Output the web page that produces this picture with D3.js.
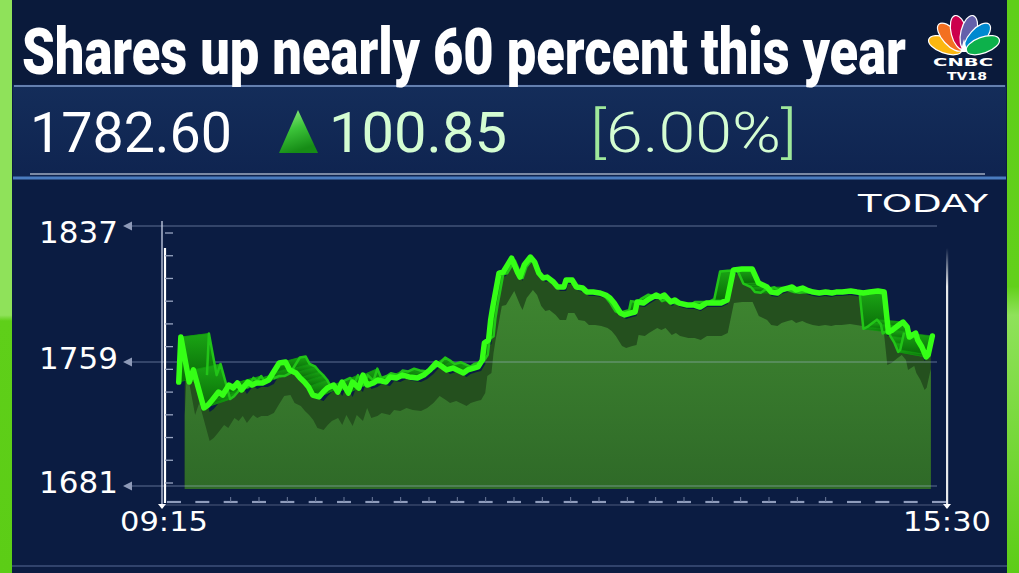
<!DOCTYPE html>
<html><head><meta charset="utf-8">
<script src="https://cdn.jsdelivr.net/npm/d3@7"></script>
<style>html,body{margin:0;padding:0;background:#0b1c42;overflow:hidden}</style>
</head><body><svg id="c" width="1019" height="573"></svg>
<script>
// ---------------- data ----------------
const title = "Shares up nearly 60 percent this year";
const lastPrice = "1782.60";
const change = "100.85";
const changePct = "6.00%";
const periodLabel = "TODAY";
const yTickValues = [1681, 1759, 1837];
const xTickLabels = ["09:15", "15:30"];
// minutes after 09:15
const minutes = [8,9,13,15,20,22,24,27,29,32,34,36,38,41,43,45,48,51,53,56,59,61,64,66,68,70,72,75,77,79,82,84,86,89,91,94,96,98,101,103,107,109,112,115,118,122,125,128,131,134,136,139,141,144,146,149,151,153,154,156,157,158,161,163,165,167,170,171,173,176,178,180,182,184,187,189,192,193,196,198,201,203,206,209,212,214,216,219,221,224,226,227,230,232,236,238,240,243,245,247,251,254,257,260,263,267,270,273,277,282,285,287,289,291,294,296,299,301,303,306,308,311,314,317,320,322,325,329,332,335,338,342,345,347,349,352,354,356,357,360,361,363,365,366,368];
const prices = [1746.4,1773.3,1746.4,1754.0,1730.1,1732.0,1735.1,1740.1,1738.2,1744.5,1742.6,1745.8,1741.4,1746.4,1744.5,1745.8,1745.8,1747.7,1752.1,1758.4,1759.0,1754.0,1752.1,1748.9,1746.4,1743.3,1738.2,1737.0,1740.1,1742.6,1744.5,1740.1,1746.4,1739.5,1746.4,1742.6,1750.8,1744.5,1745.8,1747.7,1746.4,1749.6,1748.9,1750.8,1749.6,1748.9,1750.8,1754.0,1758.4,1755.9,1754.0,1755.2,1754.0,1752.1,1754.0,1755.2,1755.9,1760.1,1769.9,1771.6,1783.1,1790.5,1810.0,1810.6,1814.6,1818.6,1810.0,1807.7,1814.6,1819.2,1816.4,1810.0,1807.2,1807.7,1804.9,1802.0,1802.0,1806.0,1806.0,1802.0,1801.4,1799.1,1799.1,1798.6,1797.4,1795.7,1792.8,1787.1,1786.0,1787.1,1787.7,1793.4,1792.8,1794.6,1797.4,1796.3,1797.4,1793.4,1794.6,1792.8,1791.7,1791.7,1790.5,1792.8,1792.8,1792.8,1794.6,1811.8,1812.3,1812.3,1804.3,1803.2,1802.0,1799.1,1798.6,1800.3,1801.4,1802.0,1800.3,1801.4,1800.3,1799.1,1798.6,1799.1,1798.6,1799.1,1799.1,1799.7,1799.1,1798.6,1799.1,1799.7,1799.1,1776.2,1777.4,1780.2,1781.9,1779.1,1773.3,1775.6,1771.6,1767.6,1761.9,1763.1,1773.9];

// ---------------- setup ----------------
const svg = d3.select("#c");
const W = 1019, H = 573;
const defs = svg.append("defs");

function lg(id, stops, x2 = 0, y2 = 1) {
  const g = defs.append("linearGradient").attr("id", id)
    .attr("x1", 0).attr("y1", 0).attr("x2", x2).attr("y2", y2);
  stops.forEach(s => g.append("stop").attr("offset", s[0]).attr("stop-color", s[1]));
}
lg("stripL", [[0, "#8fe25a"], [0.55, "#8fe25a"], [0.56, "#5fcf19"], [1, "#5ccd16"]]);
lg("stripR", [[0, "#5fcf19"], [0.5, "#62d01b"], [0.55, "#8fe25a"], [1, "#5ccd16"]]);
lg("boxBg", [[0, "#142d5a"], [1, "#0f2450"]]);
lg("tri", [[0, "#9af08a"], [0.5, "#3cc43a"], [1, "#168c16"]], 0.3, 1);
lg("light", [[0, "#3e8530"], [1, "#2f6a28"]]);
lg("ribbon", [[0, "#1aa514"], [1, "#096a08"]]);
lg("rline", [[0, "rgba(255,255,255,0)"], [0.15, "rgba(255,255,255,0.9)"], [1, "rgba(255,255,255,0.9)"]]);

// text placed at (x,y) and horizontally scaled to a target width
function fitText(parent, x, y, width, anchor, style, build) {
  const t = parent.append("text").attr("x", 0).attr("y", 0).attr("text-anchor", anchor);
  Object.entries(style).forEach(([k, v]) => t.attr(k, v));
  build(t);
  const w = t.node().getComputedTextLength() || width;
  t.attr("transform", `translate(${x},${y}) scale(${width / w},1)`);
  return t;
}

// backgrounds
svg.append("rect").attr("width", W).attr("height", H).attr("fill", "#0b1c42");
svg.append("rect").attr("width", W).attr("height", 84).attr("fill", "#0a1a3b");
svg.append("line").attr("x1", 12).attr("x2", 1007).attr("y1", 566).attr("y2", 566).attr("stroke", "rgba(120,140,185,0.35)").attr("stroke-width", 2);

// price box
svg.append("rect").attr("x", 13).attr("y", 85).attr("width", 993).attr("height", 92).attr("fill", "url(#boxBg)");
svg.append("line").attr("x1", 14).attr("x2", 1005).attr("y1", 86).attr("y2", 86).attr("stroke", "#7f9ccc").attr("stroke-width", 1.5);
svg.append("line").attr("x1", 30).attr("x2", 985).attr("y1", 174).attr("y2", 174).attr("stroke", "#e8eef8").attr("stroke-width", 1.2);
svg.append("line").attr("x1", 13).attr("x2", 1006).attr("y1", 178).attr("y2", 178).attr("stroke", "#4a7cc0").attr("stroke-width", 3);

// side strips
svg.append("rect").attr("x", 0).attr("y", 0).attr("width", 12).attr("height", H).attr("fill", "url(#stripL)");
svg.append("rect").attr("x", 1007).attr("y", 0).attr("width", 12).attr("height", H).attr("fill", "url(#stripR)");

// title
fitText(svg, 22, 74, 884, "start",
  {"font-family": "Roboto, 'Liberation Sans', sans-serif", "font-weight": 900, "font-size": 64, "fill": "#ffffff"},
  t => t.text(title));

// logo
const logo = svg.append("g").attr("transform", "translate(964,52)");
const featherColors = ["#fcb711", "#f37021", "#cc004c", "#6460aa", "#0089d0", "#0db14b"];
const featherAngles = [-70, -42, -14, 14, 42, 70];
logo.append("path").attr("d", d3.arc()({innerRadius: 0, outerRadius: 15, startAngle: -Math.PI / 2, endAngle: Math.PI / 2})).attr("fill", "#fff");
featherColors.forEach((c, i) => {
  logo.append("ellipse").attr("cx", 0).attr("cy", -20).attr("rx", 8).attr("ry", 17.5)
    .attr("transform", `rotate(${featherAngles[i]})`)
    .attr("fill", c).attr("stroke", "#ffffff").attr("stroke-width", 1.2);
});
logo.append("path").attr("d", "M-3.5,0 L0,-13 L3.5,0 Z").attr("fill", "#fff");
const logoFont = {"font-family": "'DejaVu Sans', sans-serif", "font-weight": 700, "font-size": 11, "fill": "#fff"};
fitText(svg, 963, 66, 60, "middle", logoFont, t => t.text("CNBC"));
fitText(svg, 967, 80, 40, "middle", logoFont, t => t.text("TV18"));

// price row
const pf = "Roboto, 'Liberation Sans', sans-serif";
fitText(svg, 30, 152, 202, "start", {"font-family": pf, "font-size": 56, "font-weight": 400, "fill": "#ffffff"}, t => t.text(lastPrice));
svg.append("path").attr("d", "M298,110 L318,153 L279,153 Z").attr("fill", "url(#tri)");
fitText(svg, 329, 152, 178, "start", {"font-family": pf, "font-size": 56, "font-weight": 400, "fill": "#d4fdd2"}, t => t.text(change));
fitText(svg, 590, 152, 207, "start", {"font-family": pf, "font-size": 56, "font-weight": 300}, t => {
  t.append("tspan").text("[").attr("fill", "#9fe89b");
  t.append("tspan").text(changePct).attr("fill", "#d4fdd2");
  t.append("tspan").text("]").attr("fill", "#9fe89b");
});

// TODAY
fitText(svg, 988, 212, 130, "end", {"font-family": "'DejaVu Sans', sans-serif", "font-size": 25, "fill": "#ffffff"}, t => t.text(periodLabel));

// ---------------- scales ----------------
const toMin = s => { const [h, m] = s.split(":").map(Number); return (h * 60 + m) - (9 * 60 + 15); };
const x = d3.scaleLinear().domain([toMin(xTickLabels[0]), toMin(xTickLabels[1])]).range([162, 947]);
const y = d3.scaleLinear().domain(yTickValues).range([486, 362, 226]);

const pts = minutes.map((m, i) => ({x: x(m), y: y(prices[i])}));
const base = y(yTickValues[0]) + 3;
const x0 = pts[0].x;
const shiftX = px => 6 - 0.01 * (px - x0);

// dark shadow band
const darkArea = d3.area().x(p => p.x + shiftX(p.x)).y0(base).y1(p => Math.min(base, p.y + 4));
svg.append("path").attr("d", darkArea(pts)).attr("fill", "#24501e");
// lighter area fill
const lightArea = d3.area().x(p => p.x + shiftX(p.x)).y0(base).y1(p => Math.min(base, p.y + 33));
svg.append("path").attr("d", lightArea(pts)).attr("fill", "url(#light)");

// grid lines + y labels
yTickValues.forEach((v, i) => {
  svg.append("line").attr("x1", 132).attr("x2", 937).attr("y1", y(v)).attr("y2", y(v))
    .attr("stroke", "rgba(180,195,230,0.33)").attr("stroke-width", 1.3);
  svg.append("path").attr("d", `M123,${y(v)} L132,${y(v) - 4.5} L132,${y(v) + 4.5} Z`).attr("fill", "#8e9ab8");
  svg.append("text").attr("x", 118).attr("y", y(v) + (i === 2 ? 17 : 7)).attr("text-anchor", "end").text(v)
    .attr("font-family", "'DejaVu Sans', sans-serif").attr("font-size", 31).attr("fill", "#ffffff");
});

// axes decoration
svg.append("line").attr("x1", 162).attr("x2", 162).attr("y1", 221).attr("y2", 505).attr("stroke", "#c9d2e6").attr("stroke-width", 1.3);
svg.append("line").attr("x1", 165).attr("x2", 165).attr("y1", 248).attr("y2", 503).attr("stroke", "#ffffff").attr("stroke-width", 2.2);
const minor = d3.scaleLinear().domain([0, 11]).range([233, 483]);
d3.range(12).forEach(i => svg.append("line").attr("x1", 165).attr("x2", 173)
  .attr("y1", minor(i)).attr("y2", minor(i)).attr("stroke", "#9aa6c2").attr("stroke-width", 1.3));
svg.append("rect").attr("x", 946).attr("y", 248).attr("width", 2.2).attr("height", 257).attr("fill", "url(#rline)");
[162, 947].forEach(px => svg.append("path").attr("d", `M${px - 4},504 L${px + 4},504 L${px},509 Z`).attr("fill", "#ffffff"));
const dash = d3.scaleLinear().domain([0, 27]).range([167, 932]);
d3.range(28).forEach(i => {
  svg.append("line").attr("x1", dash(i)).attr("x2", dash(i) + 14).attr("y1", 502).attr("y2", 502)
    .attr("stroke", "#8f9cbc").attr("stroke-width", 2.2);
  if (i > 1 && i < 24) svg.append("line").attr("x1", dash(i) + 7).attr("x2", dash(i) + 7).attr("y1", 497).attr("y2", 502)
    .attr("stroke", "#6f7c9c").attr("stroke-width", 1);
});
svg.append("line").attr("x1", 162).attr("x2", 947).attr("y1", 505).attr("y2", 505).attr("stroke", "rgba(200,210,235,0.35)").attr("stroke-width", 1);

xTickLabels.forEach((t, i) => {
  fitText(svg, x(toMin(t)) + (i === 0 ? 2 : 0), 531, 88, "middle",
    {"font-family": "'DejaVu Sans', sans-serif", "font-size": 26, "fill": "#ffffff"}, s => s.text(t));
});

// ribbon (3D depth of line)
const V = {x: 555, y: 290}, k = 0.075;
const back = p => ({x: p.x + k * (V.x - p.x), y: p.y + k * (V.y - p.y)});
const bpts = pts.map(back);
const rib = svg.append("g");
for (let i = 0; i < pts.length - 1; i++) {
  const a = pts[i], b = pts[i + 1], c = bpts[i + 1], d = bpts[i];
  rib.append("path").attr("d", `M${a.x},${a.y}L${b.x},${b.y}L${c.x},${c.y}L${d.x},${d.y}Z`)
    .attr("fill", "url(#ribbon)").attr("stroke", "#109a0d").attr("stroke-width", 0.6);
}
const line = d3.line().x(p => p.x).y(p => p.y);
svg.append("path").attr("d", line(bpts)).attr("fill", "none").attr("stroke", "#22c418").attr("stroke-width", 2.5).attr("stroke-linejoin", "round");
svg.append("path").attr("d", line(pts)).attr("fill", "none").attr("stroke", "#35ff16").attr("stroke-width", 5.5).attr("stroke-linejoin", "round").attr("stroke-linecap", "round");
</script></body></html>
